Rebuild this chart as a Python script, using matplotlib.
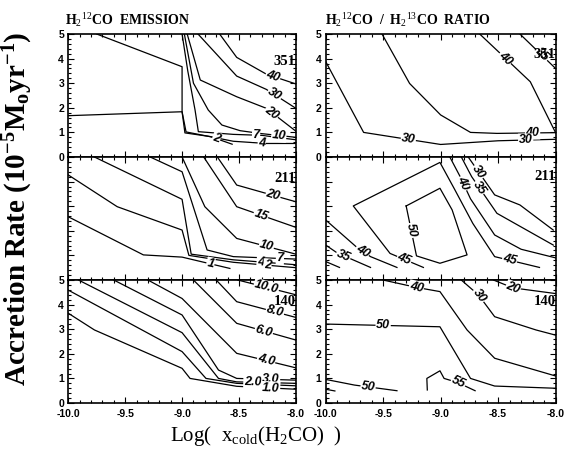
import numpy as np
import matplotlib
matplotlib.use('Agg')
import matplotlib.pyplot as plt
import matplotlib.transforms as mtransforms
from matplotlib.ticker import MultipleLocator, NullFormatter, FormatStrFormatter

plt.rcParams['axes.unicode_minus'] = False
plt.rcParams['mathtext.fontset'] = 'custom'
plt.rcParams['mathtext.rm'] = 'Liberation Serif'
plt.rcParams['mathtext.it'] = 'Liberation Serif:italic'
plt.rcParams['mathtext.bf'] = 'Liberation Serif:bold'

# ---- H2CO emission, 351 GHz ----
em351_lvl = ['4', '2', '7', '10', '20', '30', '40']
em351_x = [[-9.75, -9.0, -9.0, -8.965, -8.55, -8.26, -8.0],
           [-10.0, -9.0, -8.975, -8.93, -8.75, -8.56],
           [-9.0, -8.95, -8.886, -8.857, -8.55, -8.3, -8.0],
           [-8.98, -8.9, -8.77, -8.65, -8.49, -8.3, -8.0],
           [-8.955, -8.84, -8.52, -8.26, -8.0],
           [-8.86, -8.52, -8.26, -8.0],
           [-8.67, -8.52, -8.26, -8.0]]
em351_y = [[5.0, 3.67, 1.84, 1.02, 0.64, 0.55, 0.55],
           [1.68, 1.84, 0.98, 0.95, 0.83, 0.52],
           [5.0, 3.5, 1.91, 1.03, 0.92, 0.88, 0.7],
           [5.0, 3.0, 1.91, 1.3, 1.07, 0.95, 0.8],
           [5.0, 3.13, 2.45, 1.98, 1.05],
           [5.0, 3.29, 2.75, 1.98],
           [5.0, 4.05, 3.37, 2.97]]
em351_lab = [1, 2, 3, 4, 5, 6, 0]
em351_lab_x = [-8.70, -8.35, -8.15, -8.22, -8.18, -8.2, -8.3]
em351_lab_y = [0.74, 0.88, 0.85, 1.75, 2.6, 3.3, 0.55]

# ---- H2CO emission, 211 GHz ----
em211_lvl = ['1', '2', '4', '7', '10', '15', '20']
em211_x = [[-10.0, -9.34, -9.0, -8.58],
           [-10.0, -9.57, -9.0, -8.94, -8.55, -8.0],
           [-9.77, -9.0, -8.92, -8.55, -8.0],
           [-9.28, -9.0, -8.78, -8.55, -8.0],
           [-9.0, -8.8, -8.52, -8.0],
           [-8.81, -8.52, -8.0],
           [-8.69, -8.52, -8.0]]
em211_y = [[2.57, 1.02, 0.93, 0.47],
           [4.27, 2.98, 2.03, 1.0, 0.72, 0.5],
           [5.0, 3.28, 1.05, 0.82, 0.62],
           [5.0, 4.4, 1.22, 0.95, 0.85],
           [5.0, 2.98, 1.69, 1.05],
           [5.0, 2.98, 2.14],
           [5.0, 3.86, 3.18]]
em211_lab = [0, 3, 2, 1, 4, 5, 6]
em211_lab_x = [-8.75, -8.14, -8.31, -8.25, -8.26, -8.31, -8.2]
em211_lab_y = [0.68, 0.88, 0.7, 0.58, 1.35, 2.6, 3.45]

# ---- H2CO emission, 140 GHz ----
em140_lvl = ['1.0', '1.5', '2.0', '3.0', '4.0', '6.0', '8.0', '10.0']
em140_x = [[-10.0, -9.77, -9.0, -8.93, -8.52, -8.0],
           [-10.0, -9.0, -8.79, -8.52, -8.0],
           [-9.91, -9.0, -8.68, -8.52, -8.0],
           [-9.6, -9.0, -8.68, -8.52, -8.0],
           [-9.3, -9.0, -8.52, -8.0],
           [-8.9, -8.52, -8.0],
           [-8.7, -8.52, -8.0],
           [-8.51, -8.0]]
em140_y = [[3.65, 2.97, 1.41, 1.0, 0.68, 0.56],
           [4.59, 2.09, 1.0, 0.8, 0.7],
           [5.0, 2.86, 1.0, 0.86, 0.8],
           [5.0, 3.58, 1.34, 1.0, 0.93],
           [5.0, 4.25, 2.02, 1.43],
           [5.0, 3.24, 2.56],
           [5.0, 4.12, 3.48],
           [5.0, 4.4]]
em140_lab = [1, 2, 3, 0, 4, 5, 6, 7]
em140_lab_x = [-8.3, -8.38, -8.22, -8.22, -8.26, -8.28, -8.18, -8.26]
em140_lab_y = [0.74, 0.84, 1.0, 0.6, 1.75, 2.95, 3.78, 4.7]

# ---- 12C/13C ratio, 351 GHz ----
ra351_lvl = ['30', '40', '40', '35']
ra351_x = [[-10.0, -9.67, -9.0, -8.5, -8.0],
           [-9.51, -9.27, -9.0, -8.74, -8.51, -8.0],
           [-8.66, -8.22, -8.0],
           [-8.31, -8.0]]
ra351_y = [[3.88, 1.0, 0.51, 0.66, 0.72],
           [5.0, 2.99, 1.71, 1.0, 0.96, 0.99],
           [5.0, 3.06, 0.99],
           [5.0, 3.6]]
ra351_lab = [0, 1, 0, 2, 3]
ra351_lab_x = [-9.28, -8.2, -8.26, -8.42, -8.12]
ra351_lab_y = [0.75, 0.98, 0.7, 4.1, 4.15]

# ---- 12C/13C ratio, 211 GHz ----
ra211_lvl = ['50', '45', '40', '40', '35', '30', '35', '']
ra211_x = [[-9.3, -9.006, -8.9, -8.77, -9.006, -9.21, -9.3],
           [-9.15, -9.44, -9.76, -9.006, -8.88, -8.72, -8.53, -8.14],
           [-10.0, -9.72, -9.61, -9.38],
           [-8.92, -8.83, -8.74, -8.53, -8.3, -8.0],
           [-8.82, -8.73, -8.51, -8.02],
           [-8.76, -8.53, -8.31, -8.02],
           [-10.0, -9.9, -9.61],
           [-10.0, -9.88]]
ra211_y = [[3.01, 3.73, 2.85, 1.02, 0.68, 0.98, 3.01],
           [0.51, 1.08, 3.01, 4.78, 3.7, 2.3, 0.95, 0.51],
           [2.44, 1.29, 0.95, 0.51],
           [5.0, 4.2, 3.3, 1.83, 1.25, 0.9],
           [5.0, 4.2, 2.71, 1.42],
           [5.0, 3.46, 3.05, 2.03],
           [1.42, 1.1, 0.51],
           [0.75, 0.51]]
ra211_lab = [0, 1, 1, 2, 3, 4, 5, 6]
ra211_lab_x = [-9.27, -9.32, -8.4, -9.69, -8.8, -8.67, -8.67, -9.85]
ra211_lab_y = [2.0, 0.81, 0.81, 1.1, 3.93, 3.73, 4.4, 0.95]

# ---- 12C/13C ratio, 140 GHz ----
ra140_lvl = ['40', '30', '20', '50', '50', '', '55']
ra140_x = [[-9.5, -9.21, -9.006, -8.77, -8.53, -8.0],
           [-8.82, -8.67, -8.53, -8.17, -8.0],
           [-8.54, -8.37, -8.0],
           [-10.0, -9.006, -8.74, -8.53, -8.0],
           [-10.0, -9.75, -9.38],
           [-10.0, -9.92],
           [-9.116, -9.12, -9.006, -8.97, -8.85, -8.70]]
ra140_y = [[5.0, 4.7, 4.53, 2.97, 1.82, 1.1],
           [5.0, 4.39, 3.51, 2.97, 2.76],
           [5.0, 4.68, 4.45],
           [3.21, 3.1, 1.0, 0.69, 0.6],
           [0.96, 0.73, 0.5],
           [0.56, 0.49],
           [0.53, 1.0, 1.31, 1.0, 0.83, 0.5]]
ra140_lab = [0, 1, 2, 3, 4, 6]
ra140_lab_x = [-9.21, -8.67, -8.37, -9.5, -9.63, -8.85]
ra140_lab_y = [4.72, 4.35, 4.68, 3.2, 0.7, 0.8]

freqs = ['351', '211', '140']
freq_y = [[3.87, 4.13, 4.12], [4.15, 4.2, 4.12]]

panels = [
    [(em351_lvl, em351_x, em351_y, em351_lab, em351_lab_x, em351_lab_y),
     (ra351_lvl, ra351_x, ra351_y, ra351_lab, ra351_lab_x, ra351_lab_y)],
    [(em211_lvl, em211_x, em211_y, em211_lab, em211_lab_x, em211_lab_y),
     (ra211_lvl, ra211_x, ra211_y, ra211_lab, ra211_lab_x, ra211_lab_y)],
    [(em140_lvl, em140_x, em140_y, em140_lab, em140_lab_x, em140_lab_y),
     (ra140_lvl, ra140_x, ra140_y, ra140_lab, ra140_lab_x, ra140_lab_y)],
]


def put_label(ax, xs, ys, x, y, txt):
    # snap the label onto the nearest segment and turn it along the line
    pts = ax.transData.transform(np.column_stack([xs, ys]))
    p = ax.transData.transform((x, y))
    best = None
    for a, b in zip(pts[:-1], pts[1:]):
        d = b - a
        t = np.clip(np.dot(p - a, d) / max(np.dot(d, d), 1e-9), 0, 1)
        q = a + t * d
        dist = np.hypot(*(p - q))
        if best is None or dist < best[0]:
            best = (dist, q, d)
    _, q, d = best
    ang = np.degrees(np.arctan2(d[1], d[0]))
    if ang > 90:
        ang -= 180
    if ang < -90:
        ang += 180
    qd = ax.transData.inverted().transform(q)
    ax.text(qd[0], qd[1], txt, rotation=ang, rotation_mode='anchor',
            ha='center', va='center', fontsize=9, fontweight='bold',
            style='italic', family='Liberation Sans', zorder=3,
            bbox=dict(boxstyle='square,pad=0.05', fc='white', ec='none'))


fig = plt.figure(figsize=(5.69, 4.5), dpi=100)
lefts = [0.120, 0.5724]
widths = [0.400, 0.404]
bottoms = [0.6511, 0.3778, 0.1044]
h = 0.2733

for r in range(3):
    for c in range(2):
        ax = fig.add_axes([lefts[c], bottoms[r], widths[c], h])
        ax.set_xlim(-10, -8)
        ax.set_ylim(0, 5)
        lvl, xs, ys, lab, lx, ly = panels[r][c]
        for px, py in zip(xs, ys):
            ax.plot(px, py, color='black', lw=0.9, zorder=2)
        for i, x, y in zip(lab, lx, ly):
            put_label(ax, xs[i], ys[i], x, y, lvl[i])
        ax.text(-8.0, freq_y[c][r], freqs[r], ha='right', va='center',
                fontsize=10.5, fontweight='bold', family='Liberation Serif', zorder=4)

        ax.xaxis.set_major_locator(MultipleLocator(0.5))
        ax.xaxis.set_minor_locator(MultipleLocator(0.1))
        ax.yaxis.set_major_locator(MultipleLocator(1))
        ax.yaxis.set_minor_locator(MultipleLocator(0.2))
        ax.tick_params(which='both', direction='in', top=True, right=True,
                       width=0.8, labelsize=7.5)
        ax.tick_params(which='major', length=4.5, pad=3)
        ax.tick_params(which='minor', length=2.5)
        ax.tick_params(axis='x', which='major', pad=4)
        for s in ax.spines.values():
            s.set_linewidth(1.2)
        if r == 2:
            ax.xaxis.set_major_formatter(FormatStrFormatter('%.1f'))
        else:
            ax.xaxis.set_major_formatter(NullFormatter())
        if r == 1:
            ax.yaxis.set_major_formatter(NullFormatter())
        for t in ax.get_xticklabels() + ax.get_yticklabels():
            t.set_fontweight('bold')
            t.set_family('Liberation Sans')
        if r == 2:
            # lift the "0" a little, clear of the x labels
            lab0 = ax.yaxis.get_major_ticks()[0].label1
            lab0.set_transform(lab0.get_transform() +
                               mtransforms.ScaledTranslation(0, 3 / 72, fig.dpi_scale_trans))

fig.text(0.114, 0.955, r'H$_2$$^{12}$CO  EMISSION', fontsize=10,
         family='Liberation Serif', fontweight='bold', ha='left', va='center')
fig.text(0.572, 0.955, r'H$_2$$^{12}$CO  /  H$_2$$^{13}$CO  RATIO', fontsize=10,
         family='Liberation Serif', fontweight='bold', ha='left', va='center')
fig.text(0.032, 0.535, r'$\mathbf{Accretion\ Rate\ (10^{-5}M_{o}yr^{-1})}$',
         rotation=90, fontsize=21, ha='center', va='center')
fig.text(0.45, 0.03, r'Log(  x$_{\rm cold}$(H$_2$CO)  )', fontsize=15,
         family='Liberation Serif', ha='center', va='center')

fig.savefig('out.png', dpi=100)
